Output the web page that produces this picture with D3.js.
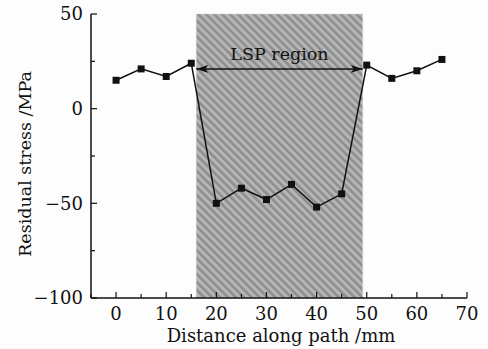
<!DOCTYPE html>
<html><head><meta charset="utf-8">
<script src="https://cdn.jsdelivr.net/npm/d3@7"></script>
<style>
html,body{margin:0;padding:0;background:#fdfdfd;}
svg{display:block;}
text{font-family:"DejaVu Serif",serif;fill:#111;}
</style></head><body>
<script>
const distances = [0,5,10,15,20,25,30,35,40,45,50,55,60,65];
const stress = [15,21,17,24,-50,-42,-48,-40,-52,-45,23,16,20,26];
const xTicks = [0,10,20,30,40,50,60,70];
const yTicks = [-100,-50,0,50];
const regionBounds = [16,49.2];
const regionLabel = "LSP region";
const arrowY = 21;

const W=488,H=349;
const m={l:91,r:21,t:14,b:51};
const svg=d3.select("body").append("svg").attr("width",W).attr("height",H);
const x=d3.scaleLinear().domain([-5,70]).range([m.l,W-m.r]);
const y=d3.scaleLinear().domain([-100,50]).range([H-m.b,m.t]);

const defs=svg.append("defs");
const pat=defs.append("pattern").attr("id","hatch").attr("patternUnits","userSpaceOnUse")
  .attr("width",5.6).attr("height",5.6).attr("patternTransform","rotate(-45)");
pat.append("rect").attr("width",5.6).attr("height",5.6).attr("fill","#b6b6b6");
pat.append("rect").attr("width",2.6).attr("height",5.6).attr("fill","#8e8e8e");
const mk=defs.append("marker").attr("id","arr").attr("viewBox","0 0 12 8").attr("refX",12).attr("refY",4)
  .attr("markerWidth",12).attr("markerHeight",8).attr("markerUnits","userSpaceOnUse").attr("orient","auto-start-reverse");
mk.append("path").attr("d","M0,0 L12,4 L0,8 L3,4 Z").attr("fill","#111");

svg.append("rect").attr("x",x(regionBounds[0])).attr("y",y(50))
  .attr("width",x(regionBounds[1])-x(regionBounds[0])).attr("height",y(-100)-y(50))
  .attr("fill","url(#hatch)").attr("stroke","#d0d0d0").attr("stroke-width",1).attr("stroke-dasharray","1.5,1.5");

svg.append("line").attr("x1",x(regionBounds[0])).attr("x2",x(regionBounds[1]))
  .attr("y1",y(arrowY)).attr("y2",y(arrowY)).attr("stroke","#111").attr("stroke-width",1.5)
  .attr("marker-start","url(#arr)").attr("marker-end","url(#arr)");
svg.append("text").attr("x",(x(regionBounds[0])+x(regionBounds[1]))/2).attr("y",y(arrowY)-9)
  .attr("text-anchor","middle").attr("font-size",17.5).text(regionLabel);

const line=d3.line().x((d,i)=>x(distances[i])).y(d=>y(d));
svg.append("path").datum(stress).attr("d",line).attr("fill","none").attr("stroke","#111").attr("stroke-width",1.5);
svg.selectAll(".pt").data(stress).enter().append("rect")
  .attr("x",(d,i)=>x(distances[i])-3.5).attr("y",d=>y(d)-3.5).attr("width",7).attr("height",7).attr("fill","#111");

// axes
const xa=svg.append("g").attr("transform",`translate(0,${y(-100)})`);
xa.append("line").attr("x1",x(-5)).attr("x2",x(70)).attr("stroke","#111").attr("stroke-width",1.5);
const xMinor=d3.range(-5,71,5);
xa.selectAll(".xt").data(xMinor).enter().append("line")
  .attr("x1",d=>x(d)).attr("x2",d=>x(d)).attr("y1",0).attr("y2",d=>d%10===0?-6:-4).attr("stroke","#111").attr("stroke-width",1.2);
xa.selectAll(".xl").data(xTicks).enter().append("text").attr("x",d=>x(d)).attr("y",22)
  .attr("text-anchor","middle").attr("font-size",18).text(d=>d);
svg.append("text").attr("x",(x(-5)+x(70))/2+2).attr("y",H-7).attr("text-anchor","middle").attr("font-size",18).text("Distance along path /mm");

const ya=svg.append("g").attr("transform",`translate(${x(-5)},0)`);
ya.append("line").attr("y1",y(-100)).attr("y2",y(50)).attr("stroke","#111").attr("stroke-width",1.5);
const yMinor=d3.range(-100,51,25);
ya.selectAll(".yt").data(yMinor).enter().append("line")
  .attr("y1",d=>y(d)).attr("y2",d=>y(d)).attr("x1",0).attr("x2",d=>d%50===0?6:4).attr("stroke","#111").attr("stroke-width",1.2);
ya.selectAll(".yl").data(yTicks).enter().append("text").attr("x",-8).attr("y",d=>y(d)).attr("dy","0.35em")
  .attr("text-anchor","end").attr("font-size",18).text(d=>d<0?"\u2212"+Math.abs(d):d);
svg.append("text").attr("transform",`translate(31,${(y(-100)+y(50))/2+8}) rotate(-90)`).attr("text-anchor","middle")
  .attr("font-size",17.5).text("Residual stress /MPa");
</script>
</body></html>
